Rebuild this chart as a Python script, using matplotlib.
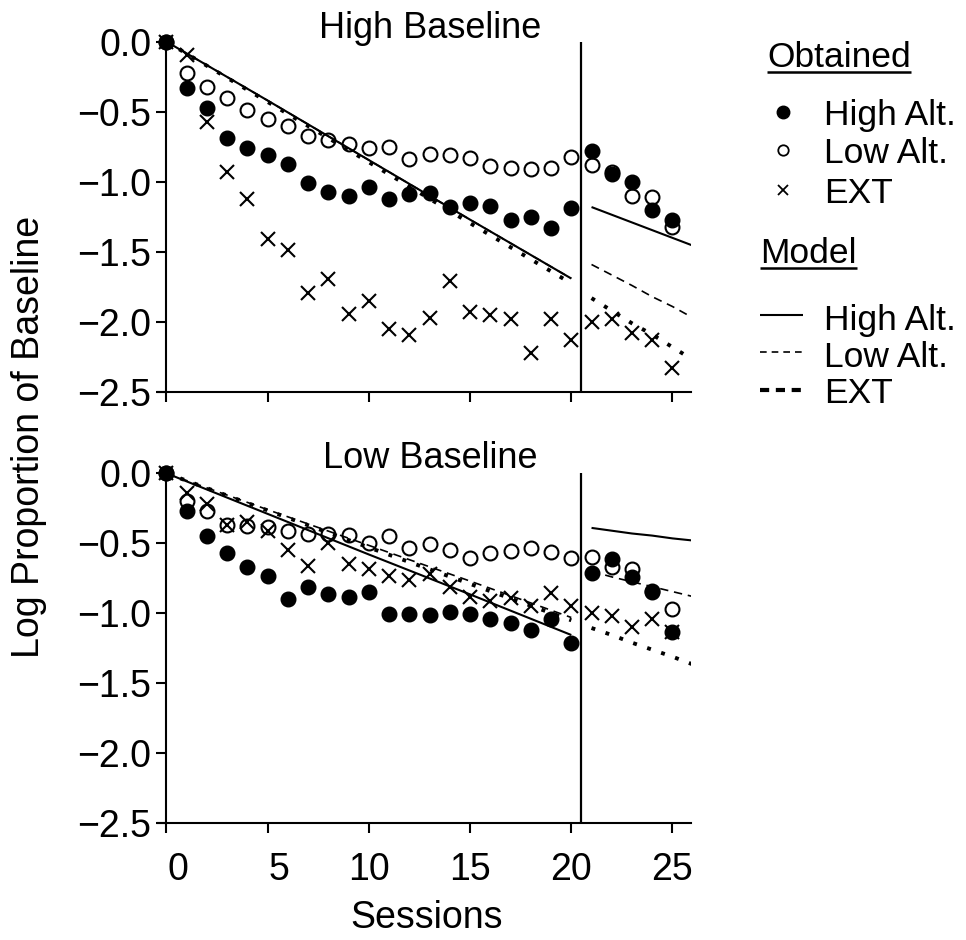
import matplotlib
matplotlib.use("Agg")
import matplotlib.pyplot as plt
from matplotlib.transforms import ScaledTranslation

plt.rcParams['font.family'] = ['Liberation Sans', 'DejaVu Sans']

# ---------------- data ----------------
sessions = list(range(26))
xticks = [0, 5, 10, 15, 20, 25]
xtick_labels = ["0", "5", "10", "15", "20", "25"]
yticks = [0.0, -0.5, -1.0, -1.5, -2.0, -2.5]
ytick_labels = ["0.0", "\u22120.5", "\u22121.0", "\u22121.5", "\u22122.0", "\u22122.5"]
phase_change = 20.5

# High Baseline (top panel) - obtained
hi_high_alt = [0.0, -0.33, -0.47, -0.69, -0.76, -0.81, -0.87, -1.01, -1.07, -1.10, -1.04,
               -1.12, -1.09, -1.08, -1.18, -1.15, -1.17, -1.27, -1.25, -1.33, -1.19,
               -0.78, -0.945, -1.00, -1.20, -1.27]
hi_low_alt = [0.0, -0.22, -0.32, -0.40, -0.49, -0.555, -0.60, -0.67, -0.70, -0.73, -0.76,
              -0.755, -0.84, -0.80, -0.81, -0.83, -0.89, -0.90, -0.91, -0.90, -0.82,
              -0.88, -0.93, -1.10, -1.11, -1.32]
hi_ext = [0.0, -0.095, -0.57, -0.93, -1.12, -1.41, -1.49, -1.79, -1.69, -1.94, -1.85,
          -2.05, -2.09, -1.97, -1.71, -1.93, -1.95, -1.98, -2.22, -1.98, -2.13,
          -2.00, -1.98, -2.08, -2.13, -2.33]

# Low Baseline (bottom panel) - obtained
lo_high_alt = [0.0, -0.27, -0.45, -0.57, -0.67, -0.73, -0.90, -0.81, -0.86, -0.88, -0.85,
               -1.005, -1.005, -1.01, -0.99, -1.005, -1.04, -1.07, -1.12, -1.04, -1.21,
               -0.71, -0.61, -0.74, -0.85, -1.13]
lo_low_alt = [0.0, -0.20, -0.27, -0.37, -0.375, -0.38, -0.415, -0.43, -0.43, -0.44, -0.50,
              -0.45, -0.535, -0.505, -0.545, -0.605, -0.57, -0.555, -0.535, -0.56, -0.605,
              -0.60, -0.67, -0.68, -0.84, -0.97]
lo_ext = [0.0, -0.14, -0.22, -0.37, -0.35, -0.415, -0.55, -0.665, -0.50, -0.645, -0.68,
          -0.735, -0.76, -0.72, -0.81, -0.88, -0.915, -0.89, -0.945, -0.855, -0.95,
          -0.995, -1.02, -1.10, -1.04, -1.13]

# Model predictions
model_x1 = [0, 5, 10, 15, 20]
model_x2 = [21, 22, 23, 24, 25, 26]
hi_model_high = [0.0, -0.42, -0.845, -1.27, -1.69]
hi_model_low = [0.0, -0.42, -0.845, -1.27, -1.69]
hi_model_ext = [0.0, -0.43, -0.86, -1.295, -1.725]
hi_model_high2 = [-1.18, -1.235, -1.29, -1.345, -1.40, -1.455]
hi_model_low2 = [-1.59, -1.665, -1.74, -1.82, -1.89, -1.97]
hi_model_ext2 = [-1.83, -1.92, -2.01, -2.09, -2.18, -2.27]
lo_model_high = [0.0, -0.29, -0.58, -0.865, -1.155]
lo_model_low = [0.0, -0.26, -0.515, -0.77, -1.03]
lo_model_ext = [0.0, -0.265, -0.53, -0.79, -1.05]
lo_model_high2 = [-0.39, -0.41, -0.43, -0.445, -0.465, -0.48]
lo_model_low2 = [-0.70, -0.74, -0.775, -0.81, -0.845, -0.88]
lo_model_ext2 = [-1.105, -1.155, -1.21, -1.26, -1.31, -1.365]

# ---------------- figure ----------------
W, H = 966, 940
fig = plt.figure(figsize=(W / 100, H / 100), dpi=100)
ax_top = fig.add_axes([158.4 / W, (H - 392) / H, 532.3 / W, 350.3 / H])
ax_bot = fig.add_axes([158.4 / W, (H - 823.3) / H, 532.3 / W, 350 / H])

SOLID = dict(color='k', lw=1.5, solid_capstyle='butt')
DASHED = dict(color='k', lw=1.2, dashes=(5, 3.5))
DOTTED = dict(color='k', lw=2.8, dashes=(1, 2.8))


def style(ax, show_xlabels):
    ax.set_xlim(-0.4, 25.9)
    ax.set_ylim(-2.5, 0.0)
    ax.spines['top'].set_visible(False)
    ax.spines['right'].set_visible(False)
    ax.spines['left'].set_position(('data', 0))
    for s in ('left', 'bottom'):
        ax.spines[s].set_linewidth(1.5)
    ax.set_yticks(yticks)
    ax.set_yticklabels(ytick_labels)
    ax.set_xticks(xticks)
    if show_xlabels:
        ax.set_xticklabels(xtick_labels)
    else:
        ax.set_xticklabels([])
    ax.tick_params(direction='out', length=7, width=1.5, labelsize=27)
    ax.tick_params(axis='y', pad=4)
    ax.tick_params(axis='x', pad=14)


def draw(ax, hi, lo, ext, m1, m2):
    ax.axvline(phase_change, color='k', lw=1.6)
    ax.plot(model_x1, m1[0], **SOLID)
    ax.plot(model_x1, m1[1], **DASHED)
    ax.plot(model_x1, m1[2], **DOTTED)
    ax.plot(model_x2, m2[0], **SOLID)
    ax.plot(model_x2, m2[1], **DASHED)
    ax.plot(model_x2, m2[2], **DOTTED)
    ax.plot(sessions, lo, 'o', ms=10, mfc='none', mec='k', mew=1.5, clip_on=False, zorder=4)
    ax.plot(sessions, ext, 'x', ms=10, color='k', mew=1.5, clip_on=False, zorder=4)
    ax.plot(sessions, hi, 'o', ms=10.5, mfc='k', mec='k', clip_on=False, zorder=5)


style(ax_top, False)
style(ax_bot, True)
draw(ax_top, hi_high_alt, hi_low_alt, hi_ext,
     (hi_model_high, hi_model_low, hi_model_ext),
     (hi_model_high2, hi_model_low2, hi_model_ext2))
draw(ax_bot, lo_high_alt, lo_low_alt, lo_ext,
     (lo_model_high, lo_model_low, lo_model_ext),
     (lo_model_high2, lo_model_low2, lo_model_ext2))

# shift single-digit x labels as in the original typesetting
shift = ScaledTranslation(11 / 100, 0, fig.dpi_scale_trans)
for lab in ax_bot.get_xticklabels()[:2]:
    lab.set_transform(lab.get_transform() + shift)

# titles and axis labels
fig.text(430 / W, 1 - 38 / H, 'High Baseline', ha='center', va='baseline', fontsize=26)
fig.text(430 / W, 1 - 468 / H, 'Low Baseline', ha='center', va='baseline', fontsize=26)
fig.text(29 / W, 1 - 437 / H, 'Log Proportion of Baseline', rotation=90,
         ha='center', va='center', fontsize=27)
fig.text(427 / W, 1 - 928 / H, 'Sessions', ha='center', va='baseline', fontsize=27)

# ---------------- legend (pixel-coordinate overlay) ----------------
lax = fig.add_axes([0, 0, 1, 1])
lax.set_xlim(0, W)
lax.set_ylim(H, 0)
lax.axis('off')
lax.patch.set_visible(False)

LFS = 25.5
t_obt = lax.text(767, 67, 'Obtained', fontsize=LFS, va='baseline')
t_mod = lax.text(760, 263, 'Model', fontsize=LFS, va='baseline')
obt_rows = [(125, 'High Alt.'), (163, 'Low Alt.'), (203, 'EXT')]
mod_rows = [(330, 'High Alt.'), (367, 'Low Alt.'), (403, 'EXT')]
for yb, lab in obt_rows:
    lax.text(824, yb, lab, fontsize=LFS, va='baseline')
for yb, lab in mod_rows:
    lax.text(824, yb, lab, fontsize=LFS, va='baseline')

lax.plot([783], [112], 'o', ms=9, mfc='k', mec='k')
lax.plot([783], [150], 'o', ms=7.5, mfc='none', mec='k', mew=1.3)
lax.plot([783], [190], 'x', ms=7, color='k', mew=1.3)
lax.plot([760, 803], [315, 315], **SOLID)
lax.plot([760, 803], [352, 352], color='k', lw=1.2, dashes=(4, 3))
lax.plot([760, 803], [390, 390], color='k', lw=3.0, dashes=(2.2, 1.6))

fig.canvas.draw()
for t, yu in ((t_obt, 71.7), (t_mod, 268)):
    bb = t.get_window_extent()
    lax.plot([bb.x0, bb.x1], [yu, yu], color='k', lw=1.8, solid_capstyle='butt')

fig.savefig('out.png', dpi=100)
